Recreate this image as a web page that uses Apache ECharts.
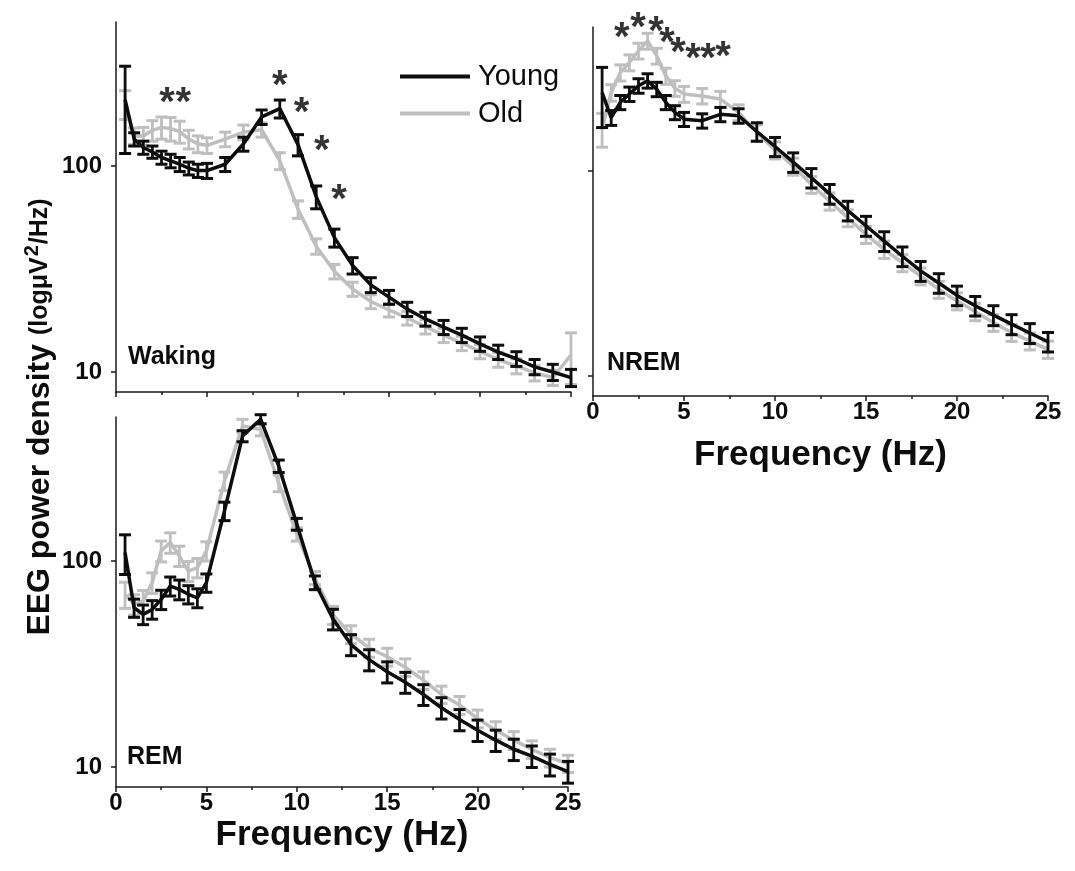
<!DOCTYPE html>
<html><head><meta charset="utf-8">
<script src="https://cdn.jsdelivr.net/npm/echarts@6/dist/echarts.min.js"></script>
<style>html,body{margin:0;padding:0;background:#fff}#c{width:1075px;height:871px}</style>
</head><body><div id="c"></div>
<script>
// Frequency bins (Hz)
const freqs = [0.5,1,1.5,2,2.5,3,3.5,4,4.5,5,6,7,8,9,10,11,12,13,14,15,16,17,18,19,20,21,22,23,24,25];
// Waking
const wakeYoung    = [210,135,123,117,110,106,102,97.5,95,95,102,128,173,190,127,71,44.9,32.9,26.5,23.1,20.2,18.1,16.5,15.1,13.7,12.5,11.6,10.6,10.0,9.4];
const wakeYoungSem = [95,10,9,8,8,8,8,7,7,8,8,10,14,19,15,9,4.5,3,2.2,1.8,1.6,1.4,1.3,1.2,1.1,1.0,0.95,0.9,0.9,0.9];
const wakeOld      = [200,140,140,149,154,152,147,135,128,126,135,146,150,106,61.7,40.8,30.8,25.3,22.0,20.0,18.3,16.6,15.1,13.8,12.6,11.5,10.7,9.9,9.4,12.1];
const wakeOldSem   = [32,13,14,17,19,20,18,14,12,11,11,12,12,10,6,3.5,2.5,2,1.7,1.5,1.4,1.3,1.2,1.1,1.0,0.95,0.9,0.85,0.8,3.4];
// NREM
const nremYoung    = [240,181,215,236,259,274,249,215,192,178,175,188,185,155,131,110,92.3,77.1,63.9,53.9,45.4,38.3,32.5,28.4,24.7,22.0,19.8,17.9,16.2,14.7];
const nremYoungSem = [78,15,17,19,21,22,20,17,15,14,14,15,15,16,14,12,10,8.5,7,6,5,4.2,3.6,3.1,2.7,2.4,2.2,2.0,1.8,1.6];
const nremOld      = [160,240,300,336,383,428,362,289,252,236,231,223,192,153,126,105,85.5,71,58.9,48.9,41.4,35.6,30.7,26.4,23.2,20.6,18.2,16.3,14.8,13.5];
const nremOldSem   = [30,22,27,30,34,38,32,26,22,21,20,20,17,14,12,10,8,6.8,5.6,4.7,4,3.4,2.9,2.5,2.2,2,1.7,1.55,1.4,1.3];
// REM
const remYoung     = [110,59.3,55.1,58.2,65.1,75.6,72.8,68.9,66.3,78.5,175,404,488,289,151,78.6,52.3,39.3,33.2,29.0,25.8,22.5,19.4,17.0,15.1,13.5,12.2,11.3,10.3,9.5];
const remYoungSem  = [24,6,6,6,7,8,8,7,7,8,18,25,25,20,10,6,6,4.6,3.9,3.4,3.0,2.6,2.3,2.0,1.8,1.6,1.45,1.35,1.25,1.15];
const remOld       = [68.9,61.6,63.9,78.6,112,123,106,89.4,92.8,112,245,452,435,239,135,82.8,54.7,44.1,37.9,34.3,30.5,26.4,22.5,20.0,17.2,15.1,13.5,12.2,11.1,10.4];
const remOldSem    = [10,7,8,9,13,14,12,10,10,12,25,35,30,22,10,6,5.5,4.4,3.8,3.4,3.0,2.6,2.2,2.0,1.7,1.5,1.35,1.2,1.1,1.0];
// Significance markers [freq, level]
const wakeStars = [[2.8,224],[3.7,224],[9.0,272],[10.2,200],[11.3,131],[12.25,76]];
const nremStars = [[1.58,489],[2.47,547],[3.46,522],[4.07,462],[4.67,414],[5.49,386],[6.32,386],[7.14,395]];
// Axis ticks
const yTicks = [10, 100];
const xMin = 0, xMax = 25, xStep = 5;
const yMin = 8, yMax = 500;
const seriesNames = ['Young', 'Old'];
const panelNames = ['Waking', 'NREM', 'REM'];

const FONT = '"Liberation Sans", Arial, sans-serif';
const BLACK = '#0d0d0d', GRAY = '#bfbfbf';

const chart = echarts.init(document.getElementById('c'), null, {renderer: 'canvas'});

function pts(m) { return freqs.map((f, i) => [f, m[i]]); }
function errData(m, s) { return freqs.map((f, i) => [f, m[i] - s[i], m[i] + s[i]]); }
function errSeries(idx, m, s, color, z) {
  return {
    type: 'custom', xAxisIndex: idx, yAxisIndex: idx, z: z, silent: true,
    data: errData(m, s), encode: {x: 0, y: [1, 2]},
    renderItem: function (params, api) {
      const lo = api.coord([api.value(0), api.value(1)]);
      const hi = api.coord([api.value(0), api.value(2)]);
      const hw = 6;
      return {type: 'group', children: [
        {type: 'line', shape: {x1: lo[0], y1: lo[1], x2: hi[0], y2: hi[1]}, style: {stroke: color, lineWidth: 2.8}},
        {type: 'line', shape: {x1: hi[0] - hw, y1: hi[1], x2: hi[0] + hw, y2: hi[1]}, style: {stroke: color, lineWidth: 3}},
        {type: 'line', shape: {x1: lo[0] - hw, y1: lo[1], x2: lo[0] + hw, y2: lo[1]}, style: {stroke: color, lineWidth: 3}}
      ]};
    }
  };
}
function lineSeries(idx, name, m, color, z) {
  return {type: 'line', name: name, xAxisIndex: idx, yAxisIndex: idx, data: pts(m),
    symbol: 'none', showSymbol: false, z: z, silent: true,
    lineStyle: {color: color, width: 3.5}, itemStyle: {color: color}};
}
function starSeries(idx, data) {
  return {type: 'scatter', xAxisIndex: idx, yAxisIndex: idx, data: data, clip: false, silent: true, z: 20,
    symbol: 'circle', symbolSize: 1, itemStyle: {color: 'rgba(0,0,0,0)'},
    label: {show: true, formatter: '*', position: 'inside', offset: [0, 10],
      fontSize: 40, fontWeight: 'bold', color: '#000', fontFamily: FONT}};
}
function xAxis(idx, showLabel, name, gap) {
  return {type: 'value', gridIndex: idx, min: xMin, max: xMax, interval: xStep,
    axisLine: {show: true, lineStyle: {color: '#1a1a1a', width: 1.5}},
    axisTick: {show: true, inside: false, length: 5, lineStyle: {color: '#1a1a1a', width: 1.5}},
    minorTick: {show: true, splitNumber: 2, length: 3, lineStyle: {color: '#1a1a1a', width: 1.5}},
    splitLine: {show: false}, minorSplitLine: {show: false},
    axisLabel: {show: showLabel, fontSize: 24, fontWeight: 'bold', color: BLACK, fontFamily: FONT, margin: 4},
    name: name, nameLocation: 'middle', nameGap: gap,
    nameTextStyle: {fontSize: 35, fontWeight: 'bold', color: BLACK, fontFamily: FONT}};
}
function yAxis(idx, showLabel) {
  return {type: 'log', logBase: 10, gridIndex: idx, min: yMin, max: yMax,
    axisLine: {show: true, onZero: false, lineStyle: {color: '#1a1a1a', width: 1.5}},
    axisTick: {show: true, inside: false, length: 5, customValues: yTicks, lineStyle: {color: '#1a1a1a', width: 1.5}},
    splitLine: {show: false},
    axisLabel: {show: showLabel, customValues: yTicks, fontSize: 24, fontWeight: 'bold', color: BLACK, fontFamily: FONT, margin: 14}};
}
function panelLabel(text, x, y) {
  return {type: 'text', x: x, y: y, silent: true,
    style: {text: text, fontSize: 25, fontWeight: 'bold', fontFamily: FONT, fill: BLACK, align: 'left', verticalAlign: 'middle'}};
}

const option = {
  animation: false,
  backgroundColor: '#ffffff',
  grid: [
    {left: 116, top: 22, width: 455, height: 370},
    {left: 593, top: 27, width: 455, height: 369},
    {left: 116, top: 417, width: 452, height: 370}
  ],
  xAxis: [xAxis(0, false, '', 0), xAxis(1, true, 'Frequency (Hz)', 42), xAxis(2, true, 'Frequency (Hz)', 31)],
  yAxis: [yAxis(0, true), yAxis(1, false), yAxis(2, true)],
  legend: {
    data: [{name: seriesNames[0], icon: 'rect'}, {name: seriesNames[1], icon: 'rect'}],
    orient: 'vertical', left: 400, top: 62, padding: 0, itemWidth: 70, itemHeight: 4, itemGap: 8,
    textStyle: {fontSize: 29, color: BLACK, fontFamily: FONT, padding: [0, 0, 0, 3]}, selectedMode: false},
  graphic: [
    panelLabel(panelNames[0], 128, 357),
    panelLabel(panelNames[1], 607, 363),
    panelLabel(panelNames[2], 127, 757),
    {type: 'text', x: 40, y: 417, rotation: Math.PI / 2, silent: true,
      style: {text: '{a|EEG power density }{b|(logμV}{c|2}{b|/Hz)}', align: 'center', verticalAlign: 'middle',
        rich: {
          a: {fontSize: 32, fontWeight: 'bold', fontFamily: FONT, fill: BLACK, lineHeight: 35},
          b: {fontSize: 25, fontWeight: 'bold', fontFamily: FONT, fill: BLACK, lineHeight: 35},
          c: {fontSize: 20, fontWeight: 'bold', fontFamily: FONT, fill: BLACK, lineHeight: 35, verticalAlign: 'top', padding: [0, 1, 14, 1]}
        }}}
  ],
  series: [
    // Waking
    errSeries(0, wakeYoung, wakeYoungSem, BLACK, 3),
    lineSeries(0, seriesNames[0], wakeYoung, BLACK, 4),
    errSeries(0, wakeOld, wakeOldSem, GRAY, 1),
    lineSeries(0, seriesNames[1], wakeOld, GRAY, 2),
    starSeries(0, wakeStars),
    // NREM
    errSeries(1, nremYoung, nremYoungSem, BLACK, 3),
    lineSeries(1, seriesNames[0], nremYoung, BLACK, 4),
    errSeries(1, nremOld, nremOldSem, GRAY, 1),
    lineSeries(1, seriesNames[1], nremOld, GRAY, 2),
    starSeries(1, nremStars),
    // REM
    errSeries(2, remYoung, remYoungSem, BLACK, 3),
    lineSeries(2, seriesNames[0], remYoung, BLACK, 4),
    errSeries(2, remOld, remOldSem, GRAY, 1),
    lineSeries(2, seriesNames[1], remOld, GRAY, 2)
  ]
};
chart.setOption(option);
</script>
</body></html>
